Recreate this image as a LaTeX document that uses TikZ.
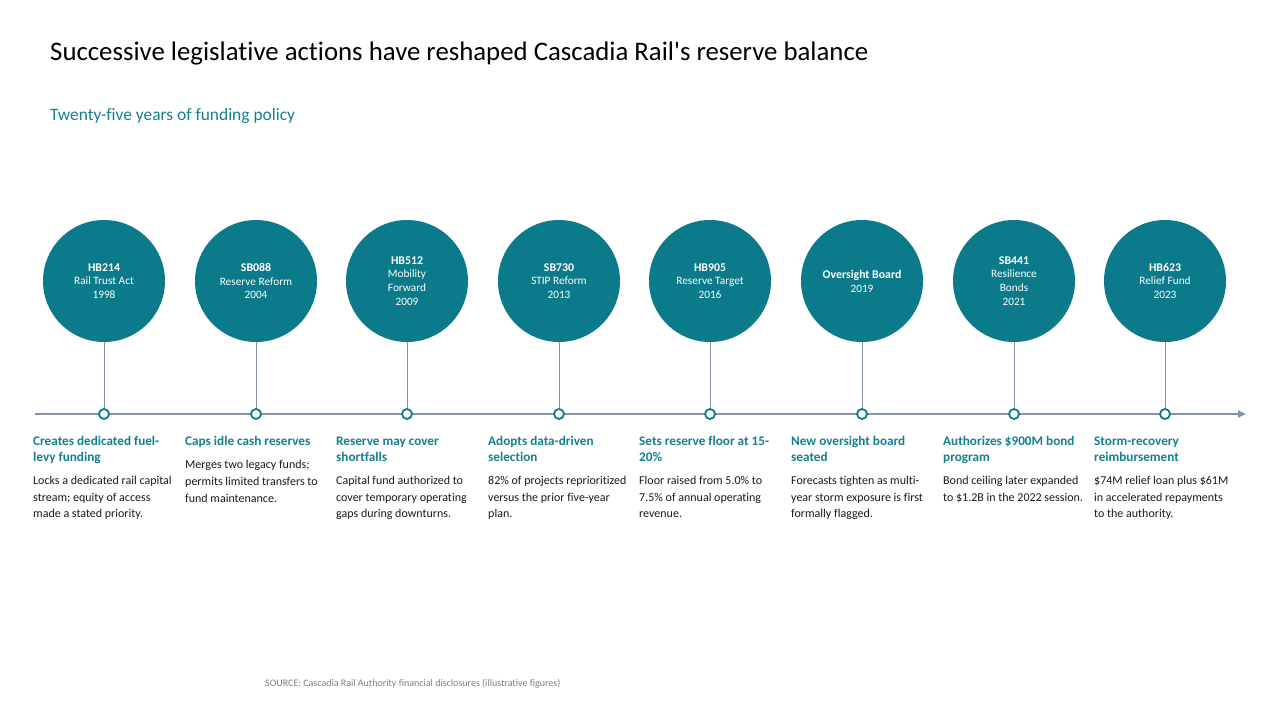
\documentclass[tikz,border=0pt]{standalone}
\usepackage{fontspec}
\setmainfont[Ligatures={NoCommon}]{Carlito}
\usetikzlibrary{arrows.meta}
\definecolor{teal1}{HTML}{0B7A8B}
\definecolor{tealtxt}{HTML}{14808F}
\definecolor{axisgray}{HTML}{8593A6}
\definecolor{bodytxt}{HTML}{1A1A1A}
\definecolor{srcgray}{HTML}{7F7F7F}
\tikzset{
  bubble/.style={circle, fill=teal1, draw=none, minimum size=122pt, inner sep=0pt,
    text=white, align=center, font=\fontsize{11.3}{13.8}\selectfont},
  dot/.style={circle, draw=teal1, line width=1.8pt, fill=white, minimum size=10pt, inner sep=0pt},
  stem/.style={draw=axisgray, line width=0.9pt},
  axisline/.style={draw=axisgray, line width=2pt, -{Triangle[length=8pt,width=7pt]}},
  headtxt/.style={anchor=base west, inner sep=0pt, align=left, text=tealtxt,
    font=\fontsize{13.2}{16}\selectfont\bfseries},
  bodytext/.style={anchor=base west, inner sep=0pt, align=left, text=bodytxt,
    font=\fontsize{12}{16.7}\selectfont},
  titletxt/.style={anchor=base west, inner sep=0pt, font=\fontsize{26.8}{30}\selectfont, text=black},
  subtxt/.style={anchor=base west, inner sep=0pt, font=\fontsize{17.4}{20}\selectfont, text=tealtxt},
  srctxt/.style={anchor=base west, inner sep=0pt, font=\fontsize{10}{12}\selectfont, text=srcgray}
}
\newcommand{\bn}[1]{{\fontsize{11.8}{14}\selectfont\bfseries #1}}
\begin{document}
\begin{tikzpicture}[x=1pt,y=-1pt]
\useasboundingbox (0,0) rectangle (1280,720);
\fill[white] (0,0) rectangle (1280,720);

\node[titletxt] (title) at (50,60) {Successive legislative actions have reshaped Cascadia Rail\textquotesingle s reserve balance};
\node[subtxt] (sub) at (50,120.5) {Twenty-five years of funding policy};

% axis
\coordinate (axL) at (35,414);
\coordinate (axR) at (1246,414);
\draw[axisline] (axL) -- (axR);

% circles
\node[bubble] (c1) at (104,281) {\bn{HB214}\\Rail Trust Act\\1998};
\node[bubble] (c2) at (256,281) {\bn{SB088}\\Reserve Reform\\2004};
\node[bubble] (c3) at (407,281) {\bn{HB512}\\Mobility\\Forward\\2009};
\node[bubble] (c4) at (559,281) {\bn{SB730}\\STIP Reform\\2013};
\node[bubble] (c5) at (710,281) {\bn{HB905}\\Reserve Target\\2016};
\node[bubble] (c6) at (862,281) {\bn{Oversight Board}\\2019};
\node[bubble] (c7) at (1014,281) {\bn{SB441}\\Resilience\\Bonds\\2021};
\node[bubble] (c8) at (1165,281) {\bn{HB623}\\Relief Fund\\2023};

% dots
\foreach \i/\x in {1/104,2/256,3/407,4/559,5/710,6/862,7/1014,8/1165}{
  \node[dot] (d\i) at (\x,414) {};
  \draw[stem] (c\i.south) -- (d\i.north);
}

% headings (base = last line)
\node[headtxt] (h1) at (33,461.7) {Creates dedicated fuel-\\levy funding};
\node[headtxt] (h2) at (185,445.7) {Caps idle cash reserves};
\node[headtxt] (h3) at (336,461.7) {Reserve may cover\\shortfalls};
\node[headtxt] (h4) at (488,461.7) {Adopts data-driven\\selection};
\node[headtxt] (h5) at (639,461.7) {Sets reserve floor at 15-\\20\%};
\node[headtxt] (h6) at (791,461.7) {New oversight board\\seated};
\node[headtxt] (h7) at (943,461.7) {Authorizes \$900M bond\\program};
\node[headtxt] (h8) at (1094,461.7) {Storm-recovery\\reimbursement};

% bodies (base = last line)
\node[bodytext] (b1) at (33,517.7) {Locks a dedicated rail capital\\stream; equity of access\\made a stated priority.};
\node[bodytext] (b2) at (185,502.1) {Merges two legacy funds;\\permits limited transfers to\\fund maintenance.};
\node[bodytext] (b3) at (336,517.7) {Capital fund authorized to\\cover temporary operating\\gaps during downturns.};
\node[bodytext] (b4) at (488,517.7) {82\% of projects reprioritized\\versus the prior five-year\\plan.};
\node[bodytext] (b5) at (639,517.7) {Floor raised from 5.0\% to\\7.5\% of annual operating\\revenue.};
\node[bodytext] (b6) at (791,517.7) {Forecasts tighten as multi-\\year storm exposure is first\\formally flagged.};
\node[bodytext] (b7) at (943,501) {Bond ceiling later expanded\\to \$1.2B in the 2022 session.};
\node[bodytext] (b8) at (1094,517.7) {\$74M relief loan plus \$61M\\in accelerated repayments\\to the authority.};

\node[srctxt] (src) at (265,686) {SOURCE: Cascadia Rail Authority financial disclosures (illustrative figures)};
\end{tikzpicture}
\end{document}
